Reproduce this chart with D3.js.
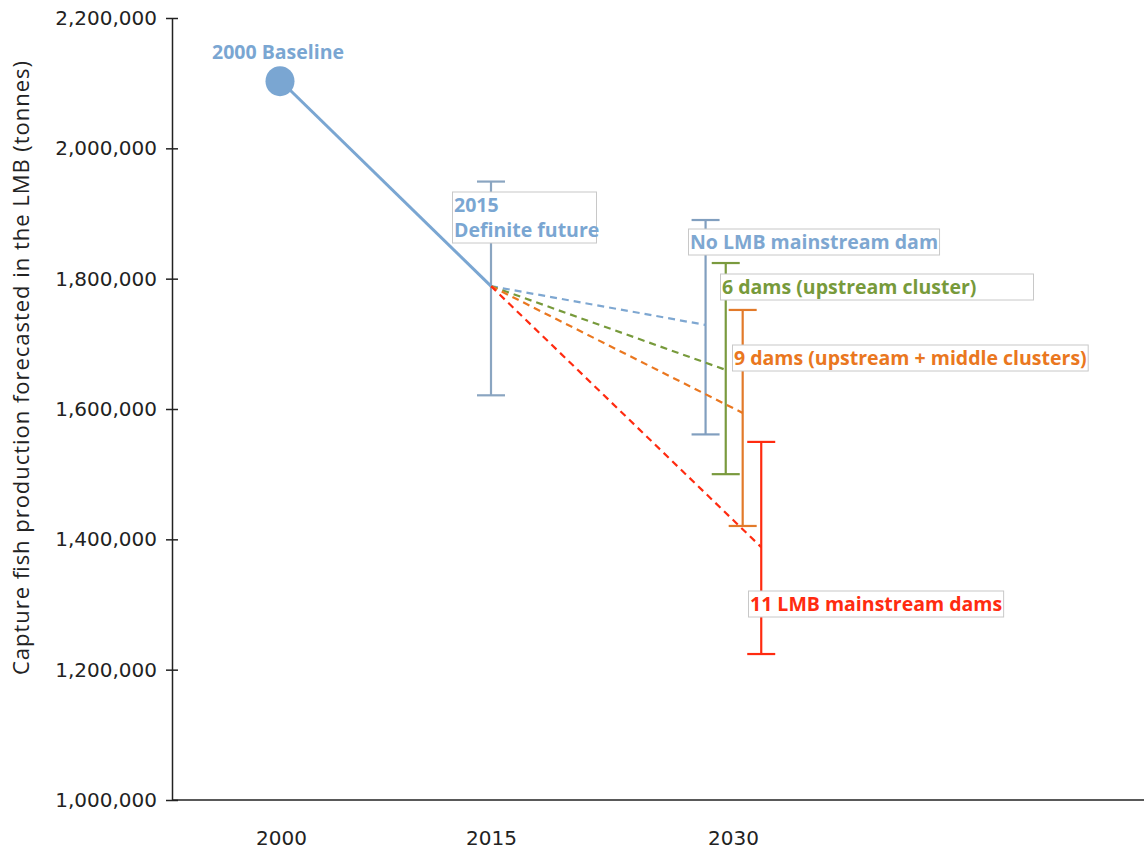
<!DOCTYPE html>
<html>
<head>
  <meta charset="UTF-8" />
  <title>Capture fish production forecast</title>
  <script src="https://d3js.org/d3.v7.min.js"></script>
  <style>
    body { margin: 0; background: #fff; }
    .tick text { font-family: "DejaVu Sans", sans-serif; font-size: 20px; fill: #222; }
    .lbl { font-family: "Open Sans", sans-serif; font-weight: bold; font-size: 19.5px; }
  </style>
</head>
<body>
<div id="chart"></div>

<script>
  // data
  const years = [2000, 2015, 2030];
  const baseline = { year: 2000, value: 2103000, label: "2000 Baseline" };
  const definite = { year: 2015, value: 1788500, low: 1621000, high: 1949000, label: ["2015", "Definite future"] };

  const scenarioNames = ["No LMB mainstream dam", "6 dams (upstream cluster)", "9 dams (upstream + middle clusters)", "11 LMB mainstream dams"];
  const scenarioYears = [2028.3, 2029.55, 2030.6, 2031.75];   // drawn side by side around 2030
  const scenarioMid = [1729000, 1660000, 1594000, 1388000];
  const scenarioLow = [1561000, 1500000, 1420500, 1224000];
  const scenarioHigh = [1890000, 1824000, 1752000, 1549500];
  const scenarioColors = ["#7ea7d1", "#779a3b", "#ea7720", "#ff2b10"];
  const barColors = ["#819fbf", "#7a9a3e", "#e27a2a", "#ff2b10"];

  const yTicks = [1000000, 1200000, 1400000, 1600000, 1800000, 2000000, 2200000];

  // where the boxed labels sit (left edge, baseline, optional box width)
  const labelPos = [
    { x: 690, y: 249 },
    { x: 722, y: 294, w: 313 },
    { x: 734, y: 365 },
    { x: 750, y: 611 }
  ];

  const W = 1144, H = 850;
  const blue = "#7aa6d2";

  const svg = d3.select("#chart")
    .append("svg")
    .attr("width", W)
    .attr("height", H)

  const xScale = d3.scaleLinear()
    .domain(years)
    .range([281, 491, 733]);
  const yScale = d3.scaleLinear()
    .domain([1000000, 2200000])
    .range([800, 18]);

  // y axis (ticks cross the line)
  const yAxis = svg.append("g")
    .attr("transform", "translate(172,0)")
    .call(d3.axisLeft(yScale).tickValues(yTicks).tickFormat(d3.format(",")).tickSize(6).tickSizeOuter(0).tickPadding(9));
  yAxis.selectAll(".tick line").attr("x1", 6).attr("stroke", "#222").attr("stroke-width", 1.5);
  yAxis.select(".domain").attr("stroke", "#222").attr("stroke-width", 1.5);

  // x axis: labels only, line runs to the right edge
  const xAxis = svg.append("g")
    .attr("transform", "translate(0,800)")
    .call(d3.axisBottom(xScale).tickValues(years).tickFormat(d3.format("d")).tickSize(0).tickPadding(31));
  xAxis.select(".domain").remove();
  svg.append("line")
    .attr("x1", 172).attr("x2", W)
    .attr("y1", 800).attr("y2", 800)
    .attr("stroke", "#222").attr("stroke-width", 1.5);

  // axis title
  svg.append("text")
    .attr("transform", "translate(29,368) rotate(-90)")
    .attr("text-anchor", "middle")
    .attr("textLength", 614)
    .attr("lengthAdjust", "spacing")
    .style("font-family", "'Open Sans', sans-serif")
    .style("font-size", "22px")
    .style("fill", "#222")
    .text("Capture fish production forecasted in the LMB (tonnes)");

  // error bars
  function errorBar(x, lo, hi, color) {
    const g = svg.append("g").attr("stroke", color).attr("stroke-width", 2.2);
    g.append("line").attr("x1", x).attr("x2", x).attr("y1", yScale(hi)).attr("y2", yScale(lo));
    g.append("line").attr("x1", x - 14).attr("x2", x + 14).attr("y1", yScale(hi)).attr("y2", yScale(hi));
    g.append("line").attr("x1", x - 14).attr("x2", x + 14).attr("y1", yScale(lo)).attr("y2", yScale(lo));
  }

  errorBar(xScale(definite.year), definite.low, definite.high, "#8aa5c1");
  scenarioNames.forEach((n, i) => {
    errorBar(xScale(scenarioYears[i]), scenarioLow[i], scenarioHigh[i], barColors[i]);
  });

  // dashed projections from 2015
  scenarioNames.forEach((n, i) => {
    svg.append("line")
      .attr("x1", xScale(definite.year)).attr("y1", yScale(definite.value))
      .attr("x2", xScale(scenarioYears[i])).attr("y2", yScale(scenarioMid[i]))
      .attr("stroke", scenarioColors[i])
      .attr("stroke-width", 2.2)
      .attr("stroke-dasharray", "7,5");
  });

  // 2000 -> 2015 line and baseline dot
  svg.append("line")
    .attr("x1", xScale(baseline.year)).attr("y1", yScale(baseline.value))
    .attr("x2", xScale(definite.year)).attr("y2", yScale(definite.value))
    .attr("stroke", blue).attr("stroke-width", 3);
  svg.append("ellipse")
    .attr("cx", xScale(baseline.year) - 1).attr("cy", yScale(baseline.value))
    .attr("rx", 14.5).attr("ry", 15)
    .attr("fill", blue);

  svg.append("text")
    .attr("class", "lbl")
    .attr("x", 212).attr("y", 59)
    .style("fill", blue)
    .text(baseline.label);

  // boxed labels
  function boxLabel(lines, x, y, color, w) {
    const g = svg.append("g");
    const rect = g.append("rect");
    const t = g.append("text").attr("class", "lbl").style("fill", color);
    lines.forEach((s, i) => {
      t.append("tspan").attr("x", x).attr("y", y + i * 25).text(s);
    });
    const bb = t.node().getBBox();
    rect.attr("x", x - 1.5).attr("y", bb.y + 1)
      .attr("width", (w || bb.width + 3))
      .attr("height", bb.height - 1)
      .attr("fill", "#fff")
      .attr("stroke", "#c8c8c8")
      .attr("stroke-width", 1);
  }

  boxLabel(definite.label, 454, 212, blue, 144);
  scenarioNames.forEach((n, i) => {
    boxLabel([n], labelPos[i].x, labelPos[i].y, scenarioColors[i], labelPos[i].w);
  });
</script>
</body>
</html>
